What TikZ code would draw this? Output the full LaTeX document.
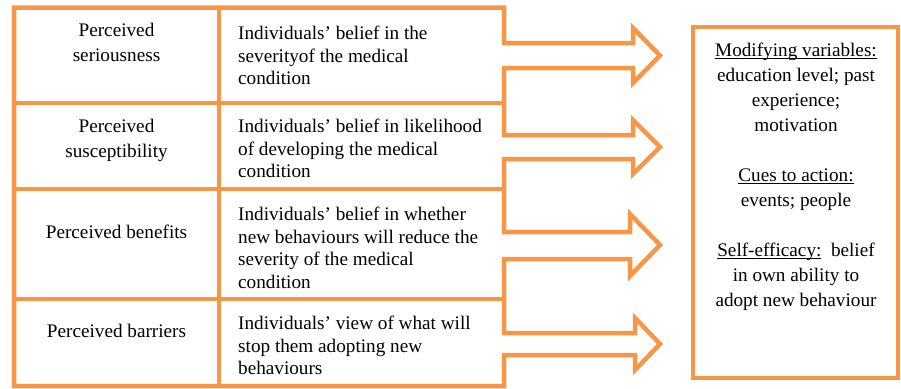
\documentclass[tikz,border=0pt]{standalone}
\usepackage{fontspec}
\setmainfont{Liberation Serif}
\usetikzlibrary{positioning}
\definecolor{hbmorange}{RGB}{247,150,70}
\newcommand{\wordul}[1]{\setbox0\hbox{#1}\rlap{\rule[-2.2pt]{\wd0}{0.9pt}}\box0}

\begin{document}
\begin{tikzpicture}[x=1pt, y=-1pt,
	frame/.style={line width=4.5pt, hbmorange, line join=miter},
	factor/.style={anchor=north, align=center, inner sep=0pt, font=\fontsize{19.2}{25}\selectfont},
	belief/.style={anchor=north west, align=left, inner sep=0pt, font=\fontsize{19.2}{22.5}\selectfont},
	modtext/.style={anchor=north, align=center, inner sep=0pt, font=\fontsize{19.2}{25}\selectfont}]
	\useasboundingbox (0,0) rectangle (901,388);

	%table with arrows
	\draw[frame] (14,7.5)--(504,7.5)
		--(504,43)--(633,43)--(633,28)--(660,55.5)--(633,83)--(633,68)--(504,68)
		--(504,135)--(633,135)--(633,120)--(660,147)--(633,174)--(633,159)--(504,159)
		--(504,232)--(630,232)--(630,214)--(660,245)--(630,276)--(630,259)--(504,259)
		--(504,333)--(635,333)--(635,318)--(660,344)--(635,370)--(635,355)--(504,355)
		--(504,386)--(14,386)--cycle;
	\draw[frame] (219,7.5)--(219,386);
	\foreach \y in {103,189,299} \draw[frame] (14,\y)--(504,\y);

	%factors
	\node[factor] (serious) at (116.5,22.8) {Perceived\\seriousness};
	\node[factor] (suscept) at (116.5,118.8) {Perceived\\susceptibility};
	\node[factor] (benefit) at (116.5,224.8) {Perceived benefits};
	\node[factor] (barrier) at (116.5,323.8) {Perceived barriers};

	%beliefs
	\node[belief] (severe) at (238,25.8) {Individuals' belief in the\\severityof the medical\\condition};
	\node[belief] (likely) at (238,118.8) {Individuals' belief in likelihood\\of developing the medical\\condition};
	\node[belief] (reduce) at (238,206.8) {Individuals' belief in whether\\new behaviours will reduce the\\severity of the medical\\condition};
	\node[belief] (stop) at (238,315.8) {Individuals' view of what will\\stop them adopting new\\behaviours};

	%modifying box
	\draw[frame] (693,27) rectangle (898,378);
	\node[modtext] (modify) at (796,42.8) {\wordul{Modifying variables:}\\education level; past\\experience;\\motivation\\[25pt]
		\wordul{Cues to action:}\\events; people\\[25pt]
		\wordul{Self-efficacy:}\ \ belief\\in own ability to\\adopt new behaviour};
\end{tikzpicture}
\end{document}
